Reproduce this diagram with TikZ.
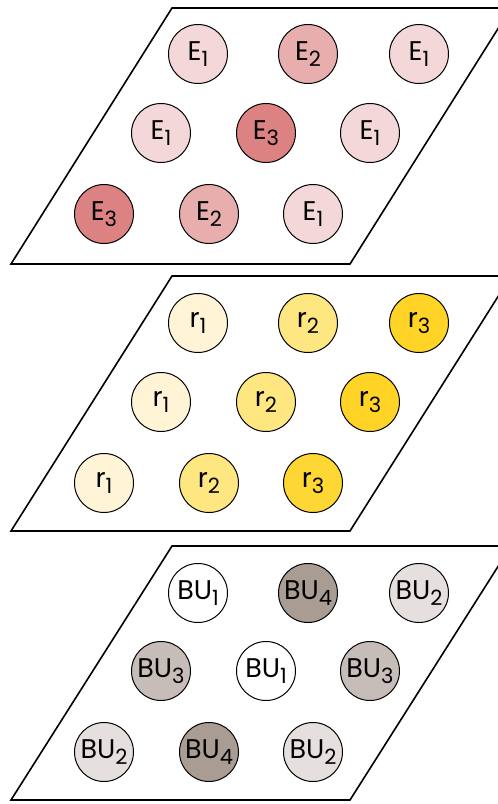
\documentclass[tikz,border=0pt]{standalone}
\usepackage{fontspec}
\setmainfont{Poppins}
\definecolor{eA}{HTML}{F4D7D8}
\definecolor{eB}{HTML}{E8AEAE}
\definecolor{eC}{HTML}{DC8282}
\definecolor{rA}{HTML}{FFF5D6}
\definecolor{rB}{HTML}{FEE680}
\definecolor{rC}{HTML}{FFD426}
\definecolor{bA}{HTML}{FFFFFF}
\definecolor{bB}{HTML}{E5E0DE}
\definecolor{bC}{HTML}{C6BDB8}
\definecolor{bD}{HTML}{A89C93}
\newcommand{\sbs}[1]{\raisebox{-6pt}{\fontsize{21}{21}\selectfont #1}}
\tikzset{
  plane/.style={draw=black, line width=1.6pt, line join=miter},
  cell/.style={circle, draw=black, line width=1pt, minimum size=59pt, inner sep=0pt,
    font=\fontsize{27}{27}\selectfont}
}
\begin{document}
\begin{tikzpicture}[x=1pt,y=-1pt]
\useasboundingbox (0,0) rectangle (498,804);
% planes
\draw[plane] (11,264) -- (350,264) -- (511,8) -- (172,8) -- cycle;
\draw[plane] (11,531) -- (350,531) -- (511,276) -- (172,276) -- cycle;
\draw[plane] (11,800) -- (350,800) -- (511,546) -- (172,546) -- cycle;
% layer 1
\node[cell, fill=eA] (e11) at (198,54) {E\sbs{1}};
\node[cell, fill=eB] (e12) at (308,54) {E\sbs{2}};
\node[cell, fill=eA] (e13) at (419,54) {E\sbs{1}};
\node[cell, fill=eA] (e21) at (161,133) {E\sbs{1}};
\node[cell, fill=eC] (e22) at (266,133) {E\sbs{3}};
\node[cell, fill=eA] (e23) at (370,133) {E\sbs{1}};
\node[cell, fill=eC] (e31) at (104,214) {E\sbs{3}};
\node[cell, fill=eB] (e32) at (209,214) {E\sbs{2}};
\node[cell, fill=eA] (e33) at (313,214) {E\sbs{1}};
% layer 2
\node[cell, fill=rA] (r11) at (198,323) {r\sbs{1}};
\node[cell, fill=rB] (r12) at (308,323) {r\sbs{2}};
\node[cell, fill=rC] (r13) at (419,323) {r\sbs{3}};
\node[cell, fill=rA] (r21) at (161,402) {r\sbs{1}};
\node[cell, fill=rB] (r22) at (266,402) {r\sbs{2}};
\node[cell, fill=rC] (r23) at (370,402) {r\sbs{3}};
\node[cell, fill=rA] (r31) at (104,483) {r\sbs{1}};
\node[cell, fill=rB] (r32) at (209,483) {r\sbs{2}};
\node[cell, fill=rC!85!rB] (r33) at (313,483) {r\sbs{3}};
% layer 3
\node[cell, fill=bA] (b11) at (198,593) {BU\sbs{1}};
\node[cell, fill=bD] (b12) at (308,593) {BU\sbs{4}};
\node[cell, fill=bB] (b13) at (419,593) {BU\sbs{2}};
\node[cell, fill=bC] (b21) at (161,671) {BU\sbs{3}};
\node[cell, fill=bA] (b22) at (266,671) {BU\sbs{1}};
\node[cell, fill=bC] (b23) at (370,671) {BU\sbs{3}};
\node[cell, fill=bB] (b31) at (104,752) {BU\sbs{2}};
\node[cell, fill=bD] (b32) at (209,752) {BU\sbs{4}};
\node[cell, fill=bB] (b33) at (313,752) {BU\sbs{2}};
\end{tikzpicture}
\end{document}
